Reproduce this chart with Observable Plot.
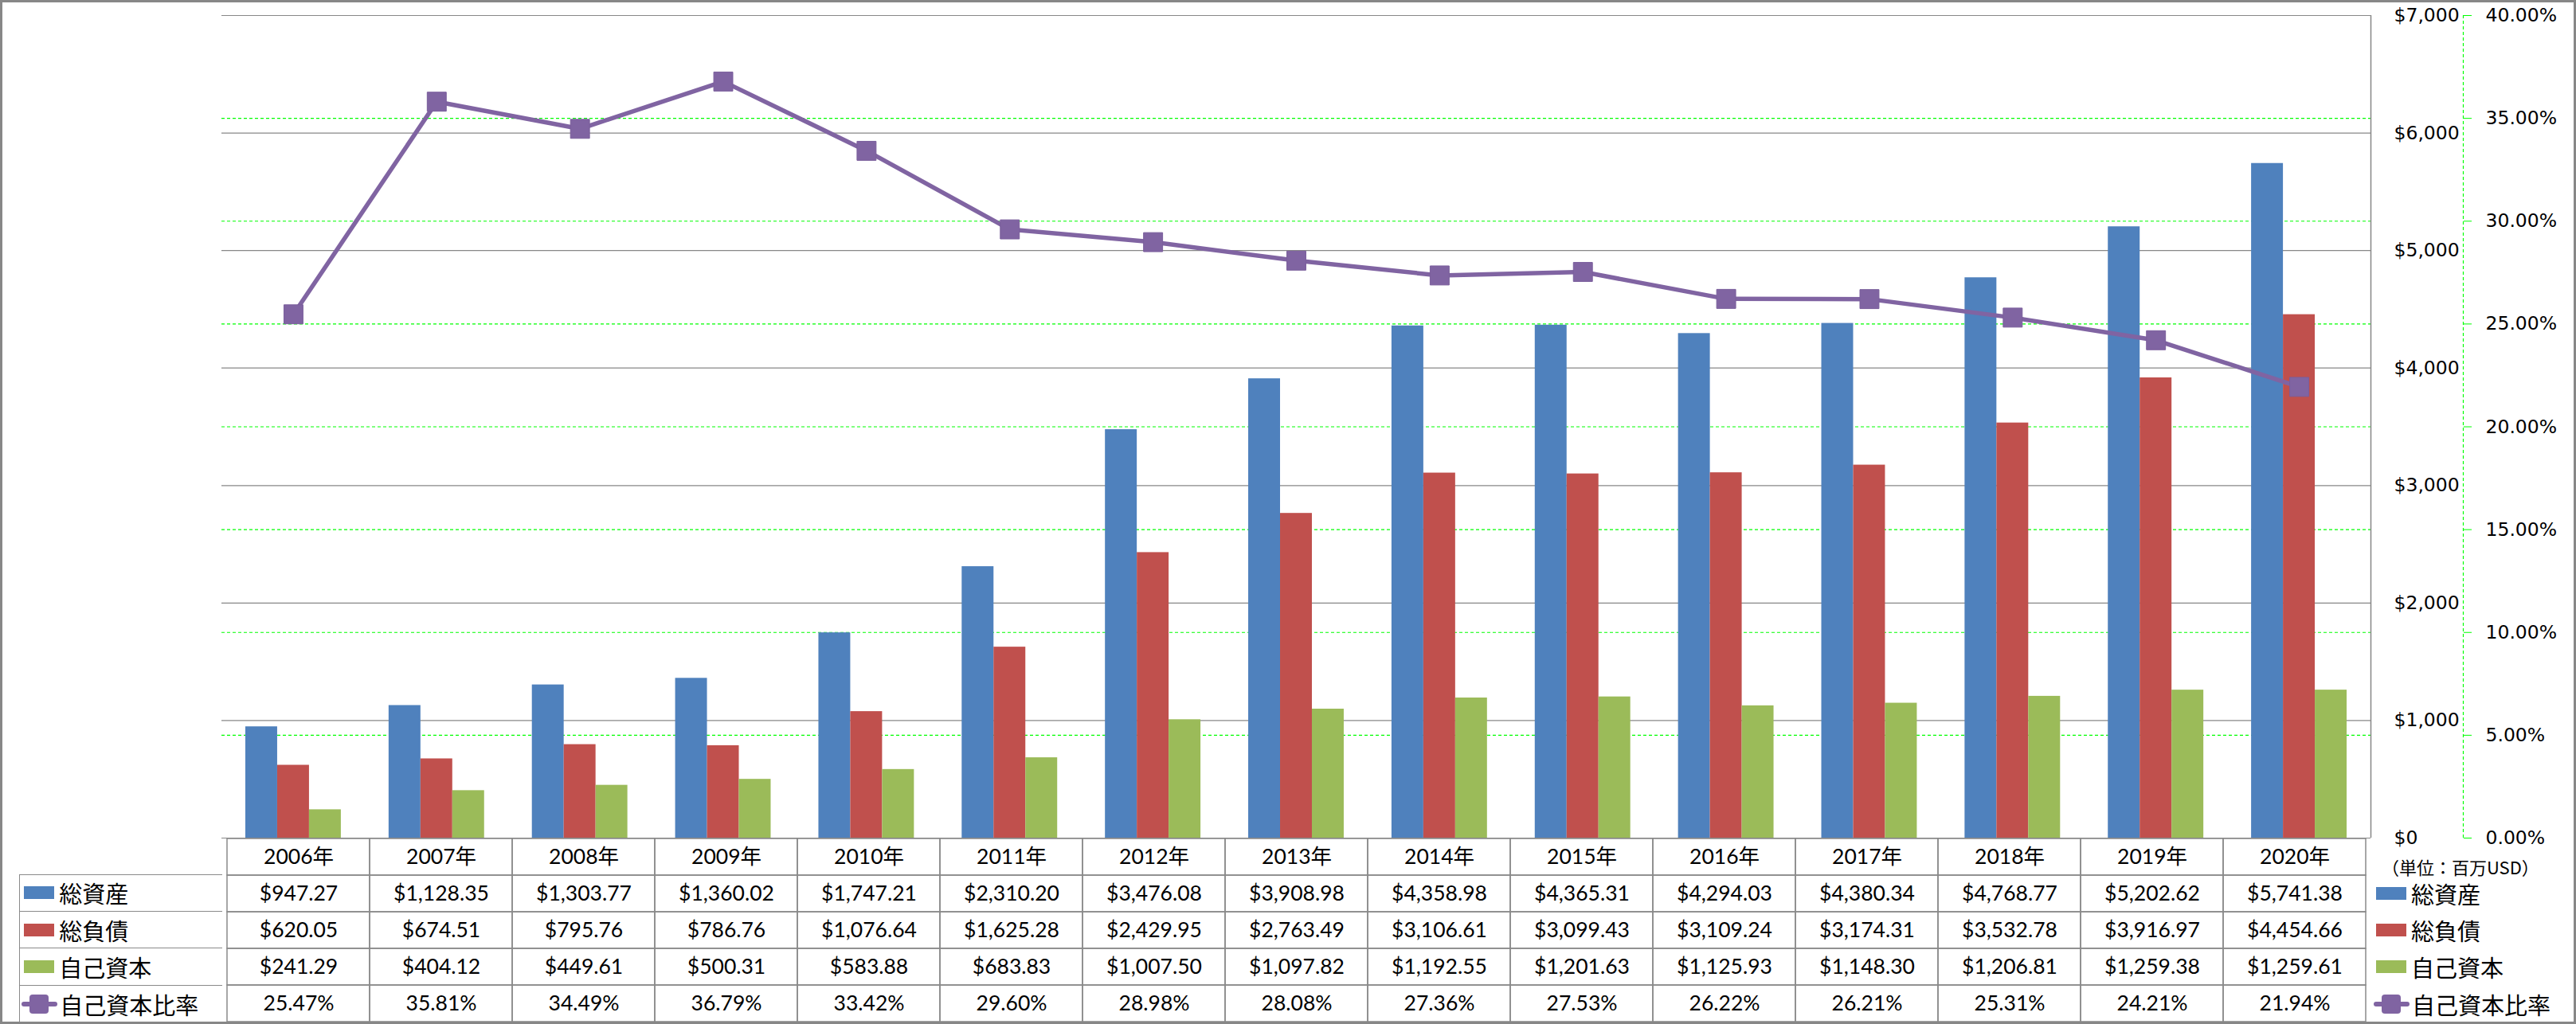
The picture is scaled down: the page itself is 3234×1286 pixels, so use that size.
<!DOCTYPE html>
<html><head><meta charset="utf-8">
<script src="https://cdn.jsdelivr.net/npm/d3@7"></script>
<script src="https://cdn.jsdelivr.net/npm/@observablehq/plot@0.6"></script>
<style>
html,body{margin:0;padding:0;background:#fff;}
#chart{position:relative;width:3234px;height:1286px;overflow:hidden;background:#fff;}
#chart > *{position:absolute;}
#border{left:0;top:0;width:3234px;height:1286px;box-sizing:border-box;border:3px solid #878787;pointer-events:none;z-index:10;}
.lab{box-sizing:border-box;display:flex;align-items:center;font-family:"Noto Sans CJK JP",sans-serif;font-size:29px;color:#000;z-index:3;}
.key{display:inline-block;width:38px;height:16px;flex:none;}
.lkey{position:relative;display:inline-block;width:45px;height:24px;flex:none;}
.lkey .ln{position:absolute;left:0;top:9px;width:45px;height:6px;background:#8064A2;border-radius:3px;}
.lkey .mk{position:absolute;left:10px;top:0;width:24px;height:24px;background:#8064A2;border-radius:4px;}
#unit{font-family:"Noto Sans CJK JP",sans-serif;font-size:22px;color:#000;z-index:3;white-space:nowrap;}
</style></head>
<body><div id="chart"></div>
<script>
// ---- data ----
const years = ["2006年","2007年","2008年","2009年","2010年","2011年","2012年","2013年","2014年","2015年","2016年","2017年","2018年","2019年","2020年"];
const seriesNames = ["総資産","総負債","自己資本"];
const ratioName = "自己資本比率";
const totalAssets = [947.27,1128.35,1303.77,1360.02,1747.21,2310.20,3476.08,3908.98,4358.98,4365.31,4294.03,4380.34,4768.77,5202.62,5741.38];
const totalLiabilities = [620.05,674.51,795.76,786.76,1076.64,1625.28,2429.95,2763.49,3106.61,3099.43,3109.24,3174.31,3532.78,3916.97,4454.66];
const equity = [241.29,404.12,449.61,500.31,583.88,683.83,1007.50,1097.82,1192.55,1201.63,1125.93,1148.30,1206.81,1259.38,1259.61];
const equityRatio = [25.47,35.81,34.49,36.79,33.42,29.60,28.98,28.08,27.36,27.53,26.22,26.21,25.31,24.21,21.94];
const dollarTicks = [0,1000,2000,3000,4000,5000,6000,7000];
const pctTicks = [0,5,10,15,20,25,30,35,40];
const unitLabel = "（単位：百万USD）";
const colors = ["#4F81BD","#C0504D","#9BBB59"];
const lineColor = "#8064A2";

// ---- layout ----
const W = 3234, mL = 278, mR = 258;
const plotTop = 19, plotBottom = 1052, svgH1 = 1082;
const dollarMax = 7000, pctMax = 40;
const toY = p => p / pctMax * dollarMax;
const gapWidth = 1.5;
const bw = 1 / (seriesNames.length + gapWidth);
const seriesValues = [totalAssets, totalLiabilities, equity];

const barData = [];
seriesValues.forEach((vals, k) => vals.forEach((v, i) => barData.push({i, k, v})));

const chart = document.getElementById("chart");

const p1 = Plot.plot({
  width: W, height: svgH1,
  marginTop: plotTop, marginBottom: svgH1 - plotBottom, marginLeft: mL, marginRight: mR,
  style: {background: "transparent"},
  x: {domain: [-0.5, years.length - 0.5], axis: null},
  y: {domain: [0, dollarMax]},
  marks: [
    Plot.ruleY(pctTicks.filter(p => p > 0 && p < pctMax), {y: d => toY(d), stroke: "#00FF00", strokeWidth: 1.2, strokeDasharray: "4,3"}),
    Plot.ruleY(dollarTicks, {stroke: "#878787", strokeWidth: 1.2}),
    Plot.rectY(barData, {
      x1: d => d.i - seriesNames.length * bw / 2 + d.k * bw,
      x2: d => d.i - seriesNames.length * bw / 2 + (d.k + 1) * bw,
      y: "v", fill: d => colors[d.k]
    }),
    Plot.ruleX([years.length - 0.5], {stroke: "#878787", strokeWidth: 1.5}),
    Plot.ruleX([years.length - 0.5], {dx: 116, stroke: "#00FF00", strokeWidth: 1.2, strokeDasharray: "4,3"}),
    Plot.axisY(dollarTicks, {anchor: "right", tickSize: 0, tickPadding: 29, label: null,
      tickFormat: d => d3.format("$,")(d), fontSize: 23.5, fontFamily: "DejaVu Sans", fill: "#000"}),
    Plot.axisY(pctTicks.map(toY), {anchor: "right", tickSize: 10, tickPadding: 18, dx: 116, label: null,
      tickFormat: d => (d / dollarMax * pctMax).toFixed(2) + "%", fontSize: 23.5, fontFamily: "DejaVu Sans",
      stroke: "#00FF00", fill: "#000"}),
    Plot.line(equityRatio, {x: (d, i) => i, y: d => toY(d), stroke: lineColor, strokeWidth: 5.5}),
    Plot.dot(equityRatio, {x: (d, i) => i, y: d => toY(d), symbol: "square", r: 13.5, fill: lineColor, stroke: "#7A5E9C", strokeWidth: 1})
  ]
});
p1.style.left = "0px"; p1.style.top = "0px"; p1.style.zIndex = 2;
chart.appendChild(p1);

// ---- data table ----
const rowKeys = ["header", ...seriesNames, ratioName];
const fmtD = d3.format("$,.2f");
const cells = [];
years.forEach((yr, i) => {
  cells.push({year: yr, row: "header", label: yr});
  seriesValues.forEach((vals, k) => cells.push({year: yr, row: seriesNames[k], label: fmtD(vals[i])}));
  cells.push({year: yr, row: ratioName, label: equityRatio[i].toFixed(2) + "%"});
});
const tableTop = plotBottom, tableBottom = 1284;
const rowH = (tableBottom - tableTop) / rowKeys.length;
const p2 = Plot.plot({
  width: W, height: tableBottom - tableTop + 4,
  marginTop: 1, marginBottom: 3, marginLeft: mL, marginRight: mR,
  x: {type: "band", domain: years, padding: 0, axis: null},
  y: {type: "band", domain: rowKeys, padding: 0, axis: null},
  marks: [
    Plot.cell(cells, {x: "year", y: "row", fill: "none", stroke: "#8a8a8a", strokeWidth: 1.5}),
    Plot.text(cells, {x: "year", y: "row", text: "label", fontSize: 26.5, fontFamily: "Lato, 'Noto Sans CJK JP', sans-serif", fill: "#000"})
  ]
});
p2.style.left = "0px"; p2.style.top = (tableTop - 1) + "px"; p2.style.zIndex = 1;
chart.appendChild(p2);

// ---- row labels (left) and legend (right) ----
const allNames = [...seriesNames, ratioName];
allNames.forEach((name, r) => {
  const top = tableTop + rowH * (r + 1);
  const d = document.createElement("div");
  d.className = "lab";
  d.style.left = "24.25px";
  d.style.top = (top - 0.75) + "px";
  d.style.width = (mL - 24.25 + 0.75) + "px";
  d.style.height = rowH + (r === allNames.length - 1 ? 1.5 : 0) + "px";
  d.style.borderTop = "1.5px solid #8a8a8a";
  d.style.borderLeft = "1.5px solid #8a8a8a";
  if (r === allNames.length - 1) d.style.borderBottom = "1.5px solid #8a8a8a";
  d.style.paddingLeft = (r < 3 ? 5 : 2) + "px";
  const key = r < 3 ? `<span class="key" style="background:${colors[r]}"></span>` : `<span class="lkey"><span class="ln"></span><span class="mk"></span></span>`;
  d.innerHTML = key + `<span style="margin-left:${r < 3 ? 6 : 3}px">${name}</span>`;
  chart.appendChild(d);

  const g = document.createElement("div");
  g.className = "lab";
  g.style.left = (r < 3 ? 2983 : 2980) + "px";
  g.style.top = top + "px";
  g.style.height = rowH + "px";
  g.innerHTML = key + `<span style="margin-left:${r < 3 ? 6 : 3}px">${name}</span>`;
  chart.appendChild(g);
});

const u = document.createElement("div");
u.id = "unit";
u.textContent = unitLabel;
u.style.left = "2990px";
u.style.top = "1072px";
chart.appendChild(u);

const b = document.createElement("div");
b.id = "border";
chart.appendChild(b);
</script>
</body></html>
